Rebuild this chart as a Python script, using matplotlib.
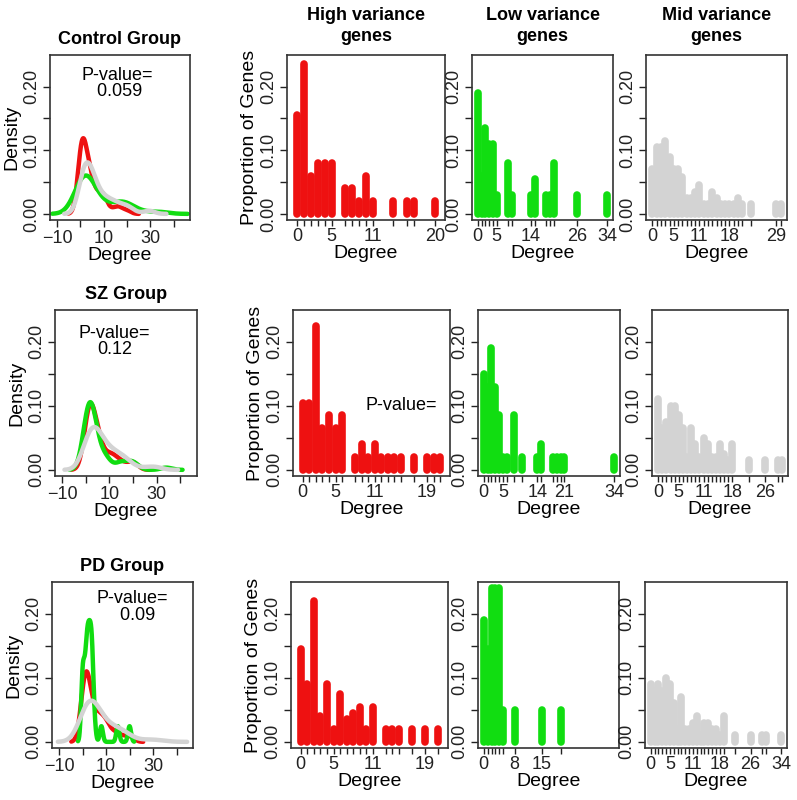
import numpy as np
import matplotlib
matplotlib.use("Agg")
import matplotlib.pyplot as plt

# ---------------- data ----------------
groups = ["Control Group", "SZ Group", "PD Group"]
col_titles = ["High variance\ngenes", "Low variance\ngenes", "Mid variance\ngenes"]
pvalues = ["P-value=\n 0.059", "P-value=\n0.12", "P-value=\n  0.09"]

high_deg = [
    [0, 1, 2, 3, 4, 5, 7, 8, 9, 10, 11, 14, 16, 17, 20],
    [0, 1, 2, 3, 4, 5, 6, 8, 9, 10, 11, 12, 13, 14, 15, 17, 19, 20, 21],
    [0, 1, 2, 3, 4, 5, 6, 7, 8, 9, 10, 11, 13, 14, 15, 17, 19, 21],
]
high_p = [
    [0.155, 0.235, 0.06, 0.08, 0.08, 0.08, 0.04, 0.04, 0.02, 0.06, 0.02, 0.02, 0.02, 0.02, 0.02],
    [0.105, 0.105, 0.225, 0.065, 0.085, 0.065, 0.085, 0.02, 0.04, 0.02, 0.04, 0.02, 0.02, 0.02, 0.02, 0.02, 0.02, 0.02, 0.02],
    [0.145, 0.09, 0.22, 0.04, 0.09, 0.02, 0.075, 0.035, 0.045, 0.055, 0.02, 0.055, 0.02, 0.02, 0.02, 0.02, 0.02, 0.02],
]
high_labels = [[0, 5, 11, 20], [0, 5, 11, 19], [0, 5, 11, 19]]

low_deg = [
    [0, 1, 2, 3, 4, 5, 8, 9, 14, 15, 18, 19, 20, 26, 34],
    [0, 1, 2, 3, 4, 5, 6, 8, 10, 14, 15, 18, 19, 20, 21, 34],
    [0, 1, 2, 3, 4, 5, 8, 15, 20],
]
low_p = [
    [0.19, 0.06, 0.135, 0.11, 0.11, 0.03, 0.08, 0.03, 0.03, 0.055, 0.03, 0.03, 0.08, 0.03, 0.03],
    [0.15, 0.13, 0.19, 0.13, 0.085, 0.02, 0.02, 0.085, 0.02, 0.02, 0.04, 0.02, 0.02, 0.02, 0.02, 0.02],
    [0.19, 0.145, 0.24, 0.24, 0.24, 0.05, 0.05, 0.05, 0.05],
]
low_labels = [[0, 5, 14, 26, 34], [0, 5, 14, 21, 34], [0, 8, 15]]

mid_deg = [
    list(range(0, 22)) + [23, 29, 30],
    list(range(0, 19)) + [22, 26, 29, 30],
    list(range(0, 20)) + [22, 26, 29, 30, 34],
]
mid_p = [
    [0.07, 0.105, 0.105, 0.115, 0.09, 0.07, 0.07, 0.058, 0.025, 0.025, 0.035, 0.045, 0.015, 0.015,
     0.035, 0.025, 0.015, 0.015, 0.015, 0.015, 0.025, 0.015, 0.015, 0.015, 0.015],
    [0.11, 0.065, 0.075, 0.10, 0.10, 0.085, 0.065, 0.02, 0.065, 0.04, 0.02, 0.05, 0.04, 0.02,
     0.02, 0.04, 0.025, 0.015, 0.04, 0.015, 0.015, 0.015, 0.015],
    [0.09, 0.08, 0.09, 0.08, 0.10, 0.09, 0.06, 0.02, 0.07, 0.02, 0.02, 0.03, 0.04, 0.01, 0.03,
     0.03, 0.02, 0.02, 0.01, 0.04, 0.01, 0.01, 0.01, 0.01, 0.01],
]
mid_labels = [[0, 5, 11, 18, 29], [0, 5, 11, 18, 26], [0, 5, 11, 18, 26, 34]]

# kernel bandwidths for density curves (high, low, mid) per group
bandwidths = [[1.7, 4.0, 2.3], [2.0, 2.3, 3.0], [1.6, 0.65, 3.5]]

RED, GREEN, GRAY = "#ee1111", "#11dd11", "#d3d3d3"
colors = [RED, GREEN, GRAY]

# ---------------- layout (pixels) ----------------
W, H = 797, 800
fig = plt.figure(figsize=(W / 100, H / 100), dpi=100)
plt.rcParams["font.family"] = ["Liberation Sans", "DejaVu Sans"]

rows_y = [(55, 220), (310, 476), (582, 748)]
cols_x = [
    [(50, 190), (287, 445), (472, 613), (646, 787)],
    [(55, 197), (293, 450), (478, 620), (652, 788)],
    [(52, 193), (291, 448), (478, 619), (645, 787)],
]
YLIM = (-0.0096, 0.2496)
FS = 13


def mkax(x0, x1, y0, y1):
    return fig.add_axes([x0 / W, 1 - y1 / H, (x1 - x0) / W, (y1 - y0) / H])


def style_y(ax, ylabel=None):
    ax.set_ylim(*YLIM)
    ax.set_yticks([0, 0.05, 0.10, 0.15, 0.20])
    ax.set_yticklabels(["0.00", "", "0.10", "", "0.20"], rotation=90, va="center", fontsize=FS)
    if ylabel:
        ax.set_ylabel(ylabel, fontsize=FS + 1, labelpad=2)
    for s in ax.spines.values():
        s.set_linewidth(1.2)
        s.set_color("#333333")
    ax.tick_params(length=5, width=1, direction="out", colors="#222222", pad=2)


def kde(deg, p, bw):
    deg = np.asarray(deg, float)
    w = np.asarray(p, float)
    w = w / w.sum()
    xs = np.linspace(deg.min() - 3 * bw, deg.max() + 3 * bw, 400)
    ys = (w[None, :] * np.exp(-0.5 * ((xs[:, None] - deg[None, :]) / bw) ** 2)).sum(1) / (bw * np.sqrt(2 * np.pi))
    return xs, ys


for r in range(3):
    y0, y1 = rows_y[r]
    # density panel
    x0, x1 = cols_x[r][0]
    ax = mkax(x0, x1, y0, y1)
    sets = [(high_deg[r], high_p[r]), (low_deg[r], low_p[r]), (mid_deg[r], mid_p[r])]
    for (d, p), c, bw in zip(sets, colors, bandwidths[r]):
        xs, ys = kde(d, p, bw)
        ax.plot(xs, ys, color=c, lw=3.2, solid_capstyle="round")
    ax.set_xlim(-13, 47)
    ax.set_xticks([-10, 0, 10, 20, 30, 40])
    ax.set_xticklabels(["\u221210", "", "10", "", "30", ""], fontsize=FS)
    style_y(ax, "Density")
    ax.set_xlabel("Degree", fontsize=FS + 1, labelpad=0)
    ax.set_title(groups[r], fontsize=FS, fontweight="bold", pad=8)
    pvx = [0.48, 0.42, 0.57][r]
    ax.text(pvx, [0.93, 0.91, 0.95][r], pvalues[r], transform=ax.transAxes, ha="center",
            va="top", fontsize=FS, linespacing=0.95)

    # histogram panels
    panels = [(high_deg[r], high_p[r], high_labels[r], RED),
              (low_deg[r], low_p[r], low_labels[r], GREEN),
              (mid_deg[r], mid_p[r], mid_labels[r], GRAY)]
    for k, (d, p, labs, c) in enumerate(panels):
        x0, x1 = cols_x[r][k + 1]
        ax = mkax(x0, x1, y0, y1)
        ax.vlines(d, 0, p, colors=c, lw=5.5, capstyle="round")
        xmax = 35 if (r == 2 and k == 1) else max(d) + 1.5
        ax.set_xlim(-1.5, xmax)
        ax.set_xticks(d)
        ax.set_xticklabels([str(v) if v in labs else "" for v in d], fontsize=FS)
        style_y(ax, "Proportion of Genes" if k == 0 else None)
        ax.tick_params(axis="x", length=4)
        ax.set_xlabel("Degree", fontsize=FS + 1, labelpad=0)
        if r == 0:
            ax.set_title(col_titles[k], fontsize=FS, fontweight="bold", pad=10, linespacing=1.3)
        if r == 1 and k == 0:
            ax.text(0.69, 0.10, "P-value=", transform=ax.get_yaxis_transform(), ha="center",
                    va="center", fontsize=FS)

fig.savefig("out.png", dpi=100)
